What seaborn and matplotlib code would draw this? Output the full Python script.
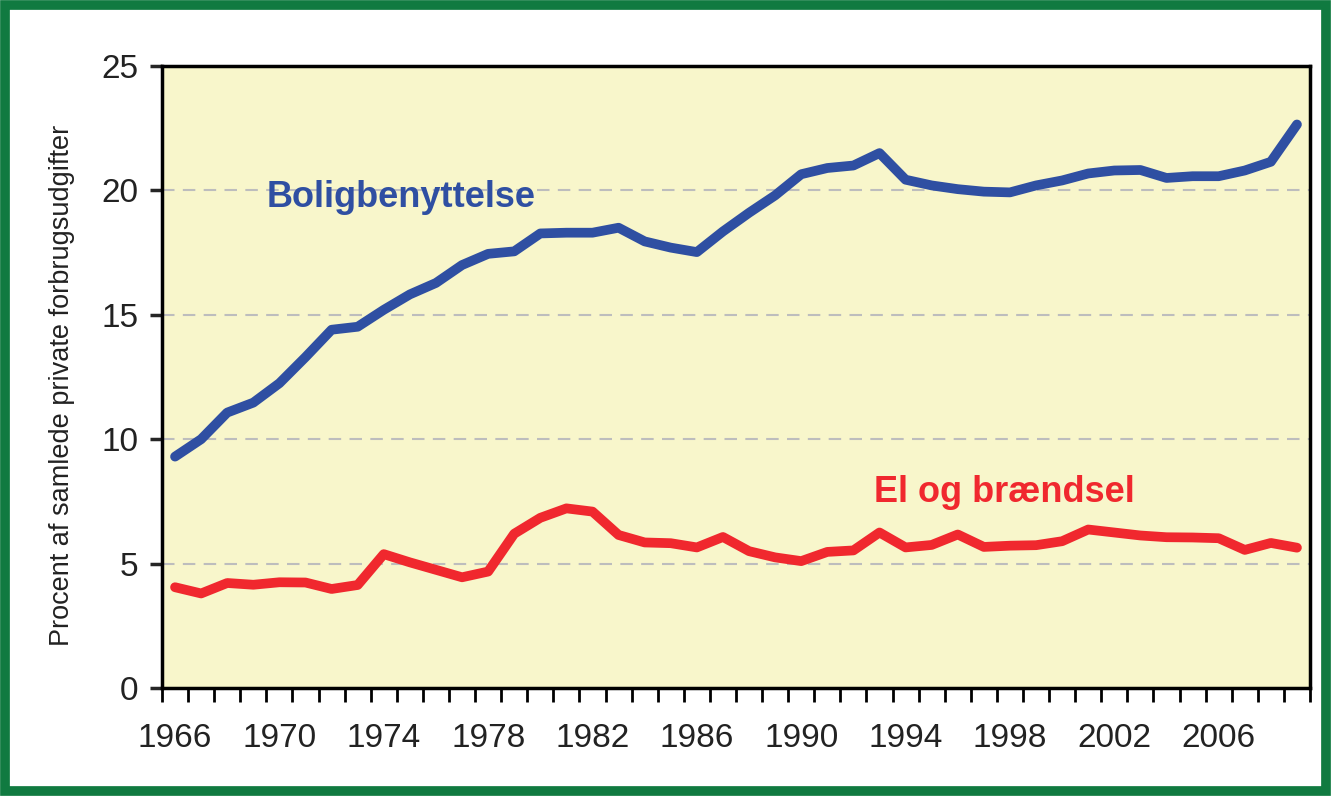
import matplotlib
matplotlib.use("Agg")
import matplotlib.pyplot as plt
from matplotlib.patches import Rectangle
from matplotlib.ticker import FixedLocator
import seaborn as sns
import pandas as pd

years = list(range(1966, 2010))
bolig = [9.3, 10.0, 11.07, 11.47, 12.25, 13.3, 14.4, 14.52, 15.2, 15.82,
         16.28, 17.0, 17.45, 17.55, 18.27, 18.3, 18.3, 18.5, 17.95, 17.7,
         17.52, 18.35, 19.1, 19.8, 20.65, 20.9, 21.0, 21.5, 20.43, 20.2,
         20.05, 19.95, 19.92, 20.2, 20.4, 20.68, 20.8, 20.82, 20.5, 20.57,
         20.57, 20.8, 21.15, 22.65]
el = [4.05, 3.8, 4.22, 4.15, 4.25, 4.24, 3.98, 4.14, 5.38, 5.05,
      4.75, 4.45, 4.68, 6.2, 6.84, 7.22, 7.09, 6.15, 5.85, 5.82,
      5.65, 6.07, 5.5, 5.25, 5.1, 5.47, 5.53, 6.25, 5.65, 5.75,
      6.17, 5.67, 5.72, 5.74, 5.9, 6.37, 6.25, 6.13, 6.06, 6.05,
      6.02, 5.55, 5.83, 5.64]
series_names = ["Boligbenyttelse", "El og brændsel"]
label_years = list(range(1966, 2007, 4))
y_ticks = [0, 5, 10, 15, 20, 25]
ylabel = "Procent af samlede private forbrugsudgifter"

blue = "#2F4FA2"
red = "#F0282E"

df = pd.DataFrame({
    "year": years * 2,
    "value": bolig + el,
    "series": [series_names[0]] * len(years) + [series_names[1]] * len(years),
})

sns.set_style("white")
plt.rcParams["font.family"] = ["Liberation Sans", "DejaVu Sans"]

fig = plt.figure(figsize=(13.31, 7.96), dpi=100)
fig.patch.set_facecolor("white")
ax = fig.add_axes([162 / 1331, 1 - 688 / 796, (1310 - 162) / 1331, (688 - 66) / 796])
ax.set_facecolor("#F8F6CB")

# grid lines
for v in y_ticks[1:-1]:
    ax.axhline(v, color="#BDBDBD", lw=1.5, ls=(0, (6, 4)), zorder=1)

sns.lineplot(data=df, x="year", y="value", hue="series",
             palette={series_names[0]: blue, series_names[1]: red},
             linewidth=7, legend=False, ax=ax, zorder=3,
             solid_capstyle="round", solid_joinstyle="round")

ax.set_xlim(1965.5, 2009.5)
ax.set_ylim(0, 25)
ax.set_xlabel("")
ax.set_ylabel("")
fig.text(62 / 1331, 1 - 385 / 796, ylabel, rotation=90, ha="center", va="center",
         fontsize=19.5, color="#222222")

ax.set_xticks(label_years)
ax.set_xticklabels([str(y) for y in label_years])
ax.xaxis.set_minor_locator(FixedLocator([y - 0.5 for y in years] + [2009.5]))
ax.tick_params(axis="x", which="major", length=0, pad=25, labelsize=24, labelcolor="#222222")
ax.tick_params(axis="x", which="minor", length=10, width=2, direction="out", color="black", bottom=True)
ax.set_yticks(y_ticks)
ax.tick_params(axis="y", which="major", length=9, width=2.5, direction="out",
               labelsize=24, pad=8, labelcolor="#222222", left=True)

for s in ax.spines.values():
    s.set_color("black")
    s.set_linewidth(2.5)
    s.set_visible(True)

ax.text(1969.5, 19.7, series_names[0], color=blue, fontsize=26, fontweight="bold",
        ha="left", va="center", zorder=4)
ax.text(1992.8, 7.85, series_names[1], color=red, fontsize=26, fontweight="bold",
        ha="left", va="center", zorder=4)

fig.patches.append(Rectangle((5 / 1331, 5 / 796), 1 - 10 / 1331, 1 - 10 / 796,
                             transform=fig.transFigure, fill=False,
                             edgecolor="#107A40", linewidth=7, zorder=10))

fig.savefig("out.png", dpi=100)
